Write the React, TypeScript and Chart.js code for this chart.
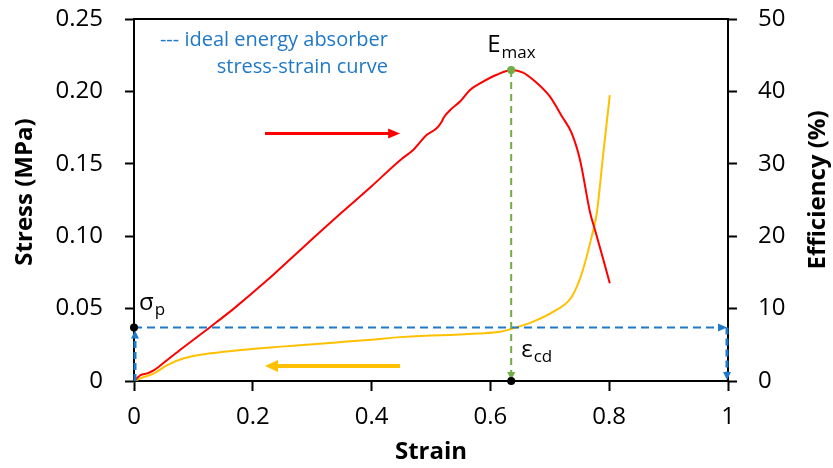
import React, { useEffect, useRef } from 'react';
import { Chart, registerables } from 'chart.js';

Chart.register(...registerables);

// Energy-absorption efficiency (%) versus strain
const effStrain = [0, 0.011, 0.0224, 0.0337, 0.056, 0.084, 0.129, 0.168, 0.224, 0.268, 0.3, 0.35, 0.4, 0.448, 0.47, 0.493, 0.5095, 0.518, 0.5207, 0.532, 0.549, 0.5657, 0.5825, 0.6106, 0.636, 0.655, 0.672, 0.7, 0.72, 0.737, 0.751, 0.768, 0.776, 0.79, 0.801];
const effValues = [0, 0.8, 1.06, 1.5, 2.9, 4.7, 7.5, 10.0, 13.9, 17.2, 19.6, 23.3, 26.9, 30.5, 31.9, 34.0, 34.9, 35.8, 36.3, 37.4, 38.6, 40.2, 41.1, 42.3, 42.96, 42.6, 41.6, 39.3, 36.6, 34.2, 30.5, 23.2, 20.9, 16.8, 13.5];

// Compressive stress (MPa) versus strain
const stressStrain = [0, 0.015, 0.0337, 0.056, 0.084, 0.129, 0.168, 0.224, 0.269, 0.3355, 0.4, 0.448, 0.5, 0.532, 0.58, 0.616, 0.6386, 0.672, 0.706, 0.737, 0.754, 0.7705, 0.779, 0.79, 0.801];
const stressValues = [0, 0.0025, 0.0053, 0.011, 0.0157, 0.0191, 0.0209, 0.023, 0.0244, 0.0265, 0.0285, 0.0303, 0.0315, 0.0318, 0.0328, 0.034, 0.0364, 0.041, 0.0479, 0.0582, 0.0744, 0.0997, 0.1158, 0.157, 0.1975];

// Axis ticks
const strainTicks = [0, 0.2, 0.4, 0.6, 0.8, 1];
const strainTickLabels = ['0', '0.2', '0.4', '0.6', '0.8', '1'];
const stressTicks = [0, 0.05, 0.1, 0.15, 0.2, 0.25];
const stressTickLabels = ['0', '0.05', '0.10', '0.15', '0.20', '0.25'];
const effTicks = [0, 10, 20, 30, 40, 50];
const effTickLabels = ['0', '10', '20', '30', '40', '50'];

// Characteristic points
const sigmaP = 0.037; // plateau stress, MPa
const epsCd = 0.635; // densification strain
const eMax = 42.96; // peak efficiency, %

const FONT = '"Open Sans", "Liberation Sans", sans-serif';
const RED = '#FF0000';
const YELLOW = '#FFC000';
const BLUE = '#1F78C8';
const GREEN = '#70AD47';

function arrowHead(ctx: CanvasRenderingContext2D, x1: number, y1: number, x2: number, y2: number, len: number, half: number, color: string) {
  const a = Math.atan2(y2 - y1, x2 - x1);
  ctx.save();
  ctx.setLineDash([]);
  ctx.fillStyle = color;
  ctx.beginPath();
  ctx.moveTo(x2, y2);
  ctx.lineTo(x2 - len * Math.cos(a) + half * Math.sin(a), y2 - len * Math.sin(a) - half * Math.cos(a));
  ctx.lineTo(x2 - len * Math.cos(a) - half * Math.sin(a), y2 - len * Math.sin(a) + half * Math.cos(a));
  ctx.closePath();
  ctx.fill();
  ctx.restore();
}

function arrow(ctx: CanvasRenderingContext2D, x1: number, y1: number, x2: number, y2: number, color: string, width: number, len: number, half: number, dash: number[] = []) {
  const a = Math.atan2(y2 - y1, x2 - x1);
  ctx.save();
  ctx.strokeStyle = color;
  ctx.lineWidth = width;
  ctx.setLineDash(dash);
  ctx.beginPath();
  ctx.moveTo(x1, y1);
  ctx.lineTo(x2 - (len - 1) * Math.cos(a), y2 - (len - 1) * Math.sin(a));
  ctx.stroke();
  ctx.restore();
  arrowHead(ctx, x1, y1, x2, y2, len, half, color);
}

function dot(ctx: CanvasRenderingContext2D, x: number, y: number, r: number, color: string) {
  ctx.save();
  ctx.fillStyle = color;
  ctx.beginPath();
  ctx.arc(x, y, r, 0, Math.PI * 2);
  ctx.fill();
  ctx.restore();
}

function subText(ctx: CanvasRenderingContext2D, main: string, sub: string, x: number, y: number, size: number, subSize: number, drop: number) {
  ctx.save();
  ctx.fillStyle = '#000';
  ctx.textBaseline = 'alphabetic';
  ctx.textAlign = 'left';
  ctx.font = `${size}px ${FONT}`;
  ctx.fillText(main, x, y);
  const w = ctx.measureText(main).width;
  ctx.font = `${subSize}px ${FONT}`;
  ctx.fillText(sub, x + w + 1, y + drop);
  ctx.restore();
}

const annotations = {
  id: 'annotations',
  afterDatasetsDraw(chart: any) {
    const { ctx, chartArea, scales } = chart;
    const xs = scales.x;
    const ys = scales.y;
    const ye = scales.y2;
    ctx.save();

    // top frame line
    ctx.strokeStyle = '#000';
    ctx.lineWidth = 2;
    ctx.beginPath();
    ctx.moveTo(chartArea.left - 1, chartArea.top);
    ctx.lineTo(chartArea.right + 1, chartArea.top);
    ctx.stroke();

    // ideal absorber rectangle (dashed)
    const x0 = xs.getPixelForValue(0);
    const x1 = xs.getPixelForValue(1);
    const yb = ys.getPixelForValue(0);
    const yp = ys.getPixelForValue(sigmaP);
    arrow(ctx, x0 + 1, yb, x0 + 1, yp + 3, BLUE, 3, 8, 4, [7, 4]);
    arrow(ctx, x0, yp, x1 - 1, yp, BLUE, 2, 9, 4, [8, 5]);
    arrow(ctx, x1 - 1, yp, x1 - 1, yb - 1, BLUE, 3, 8, 4, [7, 4]);

    // densification strain marker
    const xc = xs.getPixelForValue(epsCd);
    const yM = ye.getPixelForValue(eMax);
    arrow(ctx, xc, yM, xc, yb - 1, GREEN, 2, 8, 4, [7, 5]);

    // direction arrows
    arrow(ctx, xs.getPixelForValue(0.2205), ys.getPixelForValue(0.171), xs.getPixelForValue(0.448), ys.getPixelForValue(0.171), RED, 3, 12, 5);
    arrow(ctx, xs.getPixelForValue(0.448), ys.getPixelForValue(0.0104), xs.getPixelForValue(0.2205), ys.getPixelForValue(0.0104), YELLOW, 4, 13, 6);

    // points
    dot(ctx, x0, yp, 4, '#000');
    dot(ctx, xc, yb, 4, '#000');
    dot(ctx, xc, yM, 4, GREEN);

    // labels
    subText(ctx, 'E', 'max', xc - 24, yM - 18, 24, 17, 6);
    subText(ctx, 'σ', 'p', x0 + 5, yp - 17, 24, 17, 5);
    subText(ctx, 'ε', 'cd', xc + 10, yb - 24, 24, 17, 5);

    ctx.fillStyle = BLUE;
    ctx.font = `20px ${FONT}`;
    ctx.textAlign = 'right';
    ctx.textBaseline = 'middle';
    ctx.fillText('--- ideal energy absorber', 388, 40);
    ctx.fillText('stress-strain curve', 388, 67);

    // axis titles
    ctx.fillStyle = '#000';
    ctx.font = `bold 24px ${FONT}`;
    ctx.textAlign = 'center';
    ctx.textBaseline = 'middle';
    ctx.fillText('Strain', (chartArea.left + chartArea.right) / 2, 452);
    ctx.save();
    ctx.translate(25, 192);
    ctx.rotate(-Math.PI / 2);
    ctx.fillText('Stress (MPa)', 0, 0);
    ctx.restore();
    ctx.save();
    ctx.translate(818, 190);
    ctx.rotate(-Math.PI / 2);
    ctx.fillText('Efficiency (%)', 0, 0);
    ctx.restore();

    ctx.restore();
  },
};

function axisGrid(len: number) {
  return { drawOnChartArea: false, drawTicks: true, tickLength: len, tickColor: '#000', tickWidth: 2 };
}

export default function App() {
  const canvasRef = useRef<HTMLCanvasElement | null>(null);

  useEffect(() => {
    document.body.style.margin = '0';
    const canvas = canvasRef.current;
    if (!canvas) return;
    const tickFont = { family: FONT, size: 24 };
    const chart = new Chart(canvas, {
      type: 'scatter',
      data: {
        datasets: [
          {
            label: 'Efficiency',
            data: effStrain.map((x, i) => ({ x, y: effValues[i] })),
            yAxisID: 'y2',
            showLine: true,
            borderColor: RED,
            borderWidth: 2,
            pointRadius: 0,
            cubicInterpolationMode: 'monotone',
          },
          {
            label: 'Stress',
            data: stressStrain.map((x, i) => ({ x, y: stressValues[i] })),
            yAxisID: 'y',
            showLine: true,
            borderColor: YELLOW,
            borderWidth: 2,
            pointRadius: 0,
            cubicInterpolationMode: 'monotone',
          },
        ],
      },
      options: {
        animation: false,
        responsive: false,
        events: [],
        layout: { padding: { top: 19, left: 0, right: 0, bottom: 0 } },
        plugins: { legend: { display: false }, tooltip: { enabled: false } },
        scales: {
          x: {
            type: 'linear',
            position: 'bottom',
            min: 0,
            max: 1,
            afterBuildTicks: (s: any) => { s.ticks = strainTicks.map((v) => ({ value: v })); },
            afterFit: (s: any) => { s.height = 87; s.paddingLeft = 0; s.paddingRight = 0; },
            ticks: {
              callback: (_v: any, i: number) => strainTickLabels[i],
              font: tickFont,
              color: '#000',
              padding: 12,
              maxRotation: 0,
            },
            grid: axisGrid(10),
            border: { display: true, color: '#000', width: 2 },
          },
          y: {
            type: 'linear',
            position: 'left',
            min: 0,
            max: 0.25,
            afterBuildTicks: (s: any) => { s.ticks = stressTicks.map((v) => ({ value: v })); },
            afterFit: (s: any) => { s.width = 134; s.paddingTop = 0; s.paddingBottom = 0; },
            ticks: {
              callback: (_v: any, i: number) => stressTickLabels[i],
              font: tickFont,
              color: '#000',
              padding: 22,
            },
            grid: axisGrid(9),
            border: { display: true, color: '#000', width: 2 },
          },
          y2: {
            type: 'linear',
            position: 'right',
            min: 0,
            max: 50,
            afterBuildTicks: (s: any) => { s.ticks = effTicks.map((v) => ({ value: v })); },
            afterFit: (s: any) => { s.width = 105; s.paddingTop = 0; s.paddingBottom = 0; },
            ticks: {
              callback: (_v: any, i: number) => effTickLabels[i],
              font: tickFont,
              color: '#000',
              padding: 21,
            },
            grid: axisGrid(9),
            border: { display: true, color: '#000', width: 2 },
          },
        },
      },
      plugins: [annotations],
    } as any);
    return () => chart.destroy();
  }, []);

  return (
    <div style={{ width: 833, height: 468, background: '#fff' }}>
      <canvas ref={canvasRef} width={833} height={468} style={{ display: 'block' }} />
    </div>
  );
}
